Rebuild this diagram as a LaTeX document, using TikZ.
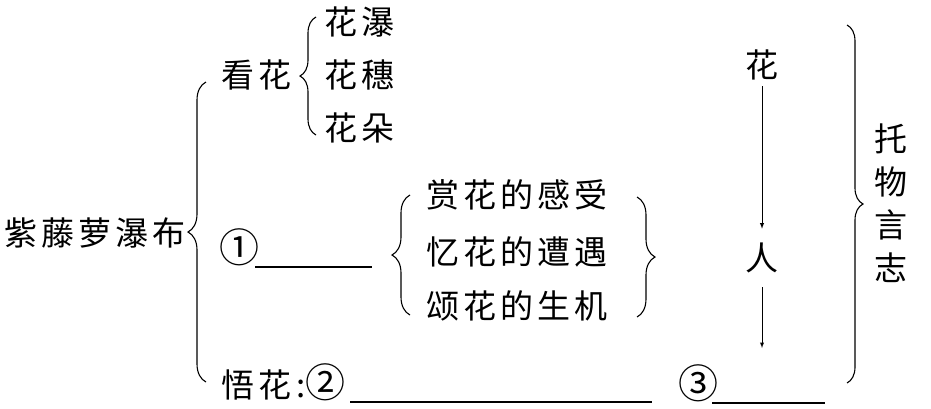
\documentclass[tikz,border=0pt]{standalone}
\usepackage{fontspec}
\setmainfont{Noto Sans CJK SC}[LetterSpace=12]
\usetikzlibrary{arrows, positioning, decorations.pathreplacing}

\newcommand{\qnum}[1]{{\fontsize{40}{40}\selectfont #1}}

\tikzset{
    txt/.style={font=\fontsize{33}{43}\selectfont, inner sep=0pt, anchor=west},
    brc/.style={decorate, decoration={brace, amplitude=#1}, line width=1.1pt},
    blank/.style={line width=1.1pt},
    flow/.style={-latex, line width=0.9pt}
}

\begin{document}
\begin{tikzpicture}[x=1pt, y=-1pt]
    \useasboundingbox (0,0) rectangle (931,408);

    \node[txt] (title) at (4,233) {紫藤萝瀑布};
    \node[txt] (kan) at (221,75) {看花};
    \node[txt] (pu) at (324,22) {花瀑};
    \node[txt] (sui) at (324,75) {花穗};
    \node[txt] (duo) at (324,128) {花朵};

    \node[txt] (q1) at (219,247) {\qnum{①}};
    \node[txt] (shang) at (426,195) {赏花的感受};
    \node[txt] (yi) at (426,252) {忆花的遭遇};
    \node[txt] (song) at (426,306) {颂花的生机};

    \node[txt] (wu) at (221,382) {悟花\,:\qnum{②}};
    \node[txt] (q3) at (678,383) {\qnum{③}};

    \node[txt, anchor=center] (hua) at (762,65) {花};
    \node[txt, anchor=center] (ren) at (762,258) {人};
    \node[txt, anchor=center, align=center] (tuowu) at (891,203) {托\\物\\言\\志};

    \coordinate (b1s) at (255,267);  \coordinate (b1e) at (372,267);
    \coordinate (b2s) at (350,402);  \coordinate (b2e) at (652,402);
    \coordinate (b3s) at (712,403);  \coordinate (b3e) at (825,403);
    \coordinate (arrend) at (762,348);

    \coordinate (lbot) at (206,382);  \coordinate (ltop) at (206,82);
    \coordinate (kbot) at (316,135);  \coordinate (ktop) at (316,17);
    \coordinate (mbot) at (410,315);  \coordinate (mtop) at (410,195);
    \coordinate (rtop) at (637,197);  \coordinate (rbot) at (637,317);
    \coordinate (btop) at (847,25);   \coordinate (bbot) at (847,383);

    \draw[brc=18pt] (lbot) -- (ltop);
    \draw[brc=16pt] (kbot) -- (ktop);
    \draw[brc=18pt] (mbot) -- (mtop);
    \draw[brc=18pt] (rtop) -- (rbot);
    \draw[brc=16pt] (btop) -- (bbot);

    \draw[blank] (b1s) -- (b1e);
    \draw[blank] (b2s) -- (b2e);
    \draw[blank] (b3s) -- (b3e);

    \draw[flow, shorten <=6pt, shorten >=14pt] (hua.south) -- (ren.north);
    \draw[flow, shorten <=14pt] (ren.south) -- (arrend);
\end{tikzpicture}
\end{document}
